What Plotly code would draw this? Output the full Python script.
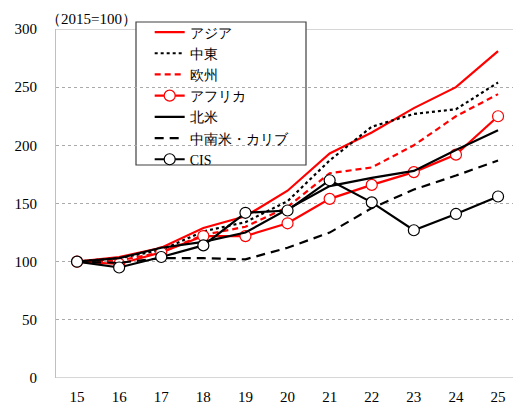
import plotly.graph_objects as go

years = [15, 16, 17, 18, 19, 20, 21, 22, 23, 24, 25]
asia = [100, 104, 112, 129, 139, 161, 193, 211, 232, 250, 281]
middle_east = [100, 103, 110, 126, 134, 152, 187, 216, 227, 231, 254]
europe = [100, 101, 108, 123, 130, 147, 176, 181, 200, 225, 244]
africa = [100, 98, 108, 122, 122, 133, 154, 166, 177, 192, 225]
north_america = [100, 103, 112, 117, 125, 145, 165, 172, 178, 196, 213]
latin_america = [100, 99, 103, 103, 102, 112, 125, 146, 162, 174, 187]
cis = [100, 95, 104, 114, 142, 144, 170, 151, 127, 141, 156]
y_ticks = [0, 50, 100, 150, 200, 250, 300]

FONT = "Liberation Serif"

fig = go.Figure()
series = [
    ("アジア", asia, "#ff0000", "solid", False),
    ("中東", middle_east, "#000000", "dot", False),
    ("欧州", europe, "#ff0000", "6px,4px", False),
    ("アフリカ", africa, "#ff0000", "solid", True),
    ("北米", north_america, "#000000", "solid", False),
    ("中南米・カリブ", latin_america, "#000000", "9px,6px", False),
    ("CIS", cis, "#000000", "solid", True),
]
for name, vals, color, dash, mk in series:
    fig.add_trace(go.Scatter(
        x=years, y=vals, name=name,
        mode="lines+markers" if mk else "lines",
        line=dict(color=color, width=2.2, dash=dash),
        marker=dict(size=11, color="white", line=dict(color=color, width=1.2)),
    ))

fig.update_layout(
    width=513, height=402,
    margin=dict(l=56, r=0, t=29, b=24, autoexpand=False),
    plot_bgcolor="white", paper_bgcolor="white",
    font=dict(family=FONT, size=14, color="#000000"),
    showlegend=True,
    legend=dict(
        x=0.205, y=1.036, xanchor="left", yanchor="top",
        bgcolor="rgba(0,0,0,0)", borderwidth=0,
        font=dict(family=FONT, size=14, color="#000000"),
        tracegroupgap=0, itemwidth=30,
    ),
    xaxis=dict(
        range=[14.5, 25.355], tickvals=years, ticktext=[str(y) for y in years],
        showgrid=False, zeroline=False, showline=False, automargin=False,
        ticks="", ticklabelstandoff=8,
        tickfont=dict(family=FONT, size=15),
    ),
    yaxis=dict(
        range=[0, 300], tickvals=y_ticks,
        showgrid=True, gridcolor="#aaaaaa", griddash="dot", gridwidth=1,
        zeroline=False, showline=True, linecolor="#c0c0c0", linewidth=1,
        automargin=False, ticks="", ticklabelstandoff=15,
        tickfont=dict(family=FONT, size=15),
    ),
    annotations=[dict(
        text="（2015=100）", xref="paper", yref="paper", x=-0.026, y=1.0,
        xanchor="left", yanchor="bottom", showarrow=False,
        font=dict(family=FONT, size=15),
    )],
    shapes=[
        dict(type="line", xref="paper", yref="y", x0=0, x1=1, y0=300, y1=300,
             line=dict(color="#c8c8c8", width=1.5), layer="below"),
        dict(type="line", xref="paper", yref="y", x0=0, x1=1, y0=0, y1=0,
             line=dict(color="#c8c8c8", width=1.5), layer="below"),
        dict(type="rect", xref="paper", yref="paper",
             x0=(136 - 56) / 457, x1=(306 - 56) / 457,
             y0=(378 - 165) / 349, y1=(378 - 22) / 349,
             fillcolor="white", line=dict(color="#404040", width=1.2),
             layer="below"),
    ],
)

fig.write_html(
    "out.html",
    config={"displayModeBar": False},
    post_script="document.body.style.margin='0';document.body.style.overflow='hidden';",
)
